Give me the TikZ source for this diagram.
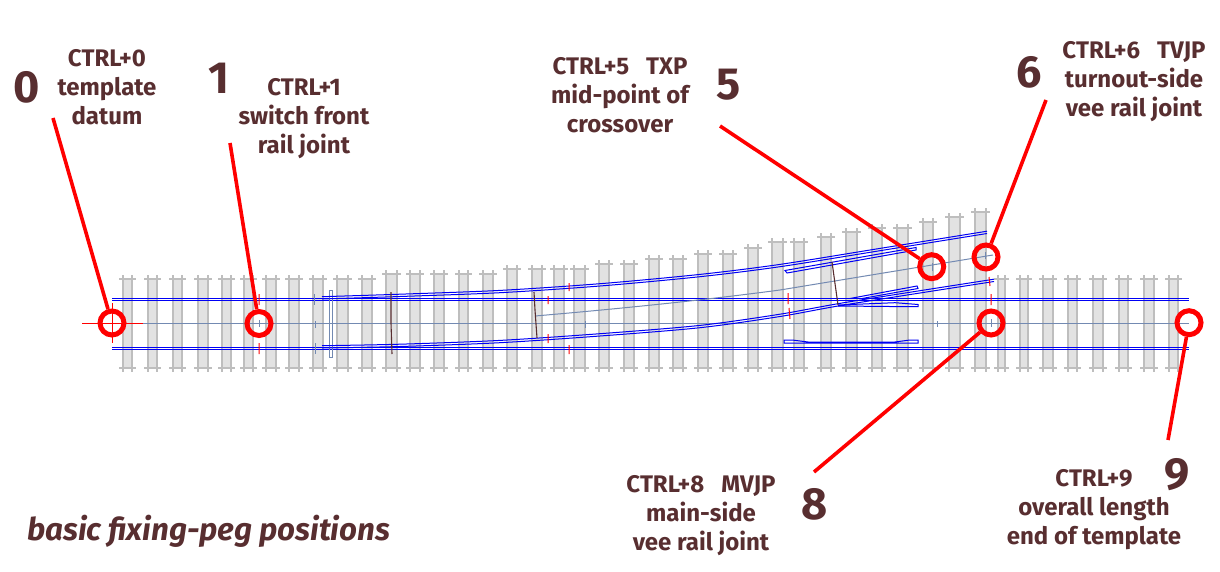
\documentclass[tikz,border=0pt]{standalone}
\usepackage{fontspec}
\setmainfont{Fira Sans}
\usepackage{tikz}
\definecolor{sleepgrey}{RGB}{226,226,226}
\definecolor{edgegrey}{RGB}{190,190,190}
\definecolor{railblue}{RGB}{0,0,245}
\definecolor{slate}{RGB}{115,138,178}
\definecolor{darkbrown}{RGB}{88,46,48}
\tikzstyle{sleeper} = [fill=sleepgrey, draw=none]
\tikzstyle{sleepedge} = [draw=edgegrey, line width=1.1pt]
\tikzstyle{railline} = [draw=railblue, line width=1pt]
\tikzstyle{guide} = [draw=slate, line width=1pt]
\tikzstyle{stretcher} = [draw=darkbrown, line width=1.1pt]
\tikzstyle{redtick} = [draw=red, line width=1pt]
\tikzstyle{peg} = [circle, draw=red, line width=5pt, minimum size=24pt, inner sep=0pt]
\tikzstyle{leader} = [draw=red, line width=3.6pt]
\tikzstyle{caption} = [text=darkbrown, font=\fontsize{24}{29}\selectfont\bfseries, align=center, text centered, inner sep=0pt]
\tikzstyle{bignum} = [text=darkbrown, font=\fontsize{45}{45}\selectfont\bfseries, inner sep=0pt]
\newcommand{\twinrail}[1]{\draw[railline] #1; \draw[railline, yshift=2.3pt] #1;}
\begin{document}
\begin{tikzpicture}[x=1pt, y=-1pt, node distance=100pt]
\useasboundingbox (0,0) rectangle (1220,572);

% sleepers
\foreach \xa/\xb/\yt in {123/132/279, 148/157/279, 173/182/279, 198/208/279, 222/231/279, 244/253/279,
  266/276/279, 289/299/279, 313/323/279, 337/348/279, 362/372/279, 386/397/274, 410/420/274, 434/444/274,
  459/468/274, 483/493/274, 507/517/269, 532/542/269, 554/564/269, 574/585/269, 599/609/264, 624/634/264,
  649/659/259, 673/683/259, 698/708/254, 723/733/254, 748/758/248, 772/783/242, 794/804/242, 821/831/237,
  846/857/232, 872/882/228, 897/908/228, 923/933/222, 949/960/217, 975/986/212, 998/1005/279, 1020/1028/279,
  1043/1053/279, 1068/1077/279, 1093/1103/279, 1119/1128/279, 1144/1154/279, 1169/1178/279}{
  \fill[sleeper] (\xa,\yt) rectangle (\xb,368);
  \draw[sleepedge] (\xa,\yt-4) -- (\xa,372) (\xb,\yt-4) -- (\xb,372);
  \draw[sleepedge] (\xa-4,\yt) -- (\xb+4,\yt) (\xa-4,368) -- (\xb+4,368);
}

% main road
\draw[guide] (143,323.5) -- (1189,323.5);
\draw[redtick] (82,323.5) -- (143,323.5) (112,303) -- (112,343);
\draw[railline] (112,298.5) -- (1189,298.5);
\draw[railline] (112,300.5) -- (1189,300.5);
\draw[railline] (112,347.5) -- (1189,347.5);
\draw[railline] (112,349.5) -- (1189,349.5);

% switch and turnout road
\draw[guide] (329.7,290) rectangle (332.3,357);
\draw[guide] (535,316) .. controls (640,307) and (720,298) .. (780,290) -- (993,255);
\twinrail{plot[smooth] coordinates {(322,299) (400,296.5) (500,292.7) (600,286) (700,276.7) (780,266.7) (880,250.7) (987,233.5)}}
\twinrail{plot[smooth] coordinates {(322,348) (400,346.5) (500,342.7) (600,336) (700,327.7) (780,316.5) (847,304.5) (994,281.5)}}
\draw[railline] (785,270.5) -- (916,247.5) -- (916,250) -- (787,273) -- cycle;
\draw[railline] (850,298.5) -- (917,286) -- (918,288.5) -- (862,298.5);
\draw[railline] (838,305) -- (895,302.7) -- (918,304.5) -- (918,306.7) -- (910,306.7) -- (838,306);
\draw[railline] (784,340) -- (792,340) -- (808,342) -- (895,342) -- (910,340) -- (918,340) -- (918,343) -- (784,343) -- cycle;
\draw[stretcher] (391,292) -- (391,323) -- (392,354);
\draw[stretcher] (534,292) -- (535,310) -- (537,338);
\draw[stretcher] (832,262) -- (838,305);

% timber ticks
\draw[guide] (314,294) -- (314,305) (315,321) -- (315,328) (315,343) -- (315,354)
  (259,320) -- (259,327) (585,321) -- (585,328) (937,321) -- (937,327) (991,319) -- (991,327)
  (932,263) -- (932,271) (985,252) -- (985,259);
\draw[redtick] (259,294) -- (259,305) (259,343) -- (259,354) (569,283) -- (569,291) (548,296) -- (548,304)
  (548,334) -- (548,343) (569,345) -- (569,354) (788,293) -- (788,304) (789,308) -- (790,319)
  (989,277) -- (990,286) (991,294) -- (991,305);

% pegs
\node (peg0) [peg] at (112,323) {};
\node (peg1) [peg] at (259,323.5) {};
\node (peg5) [peg] at (931.7,266.7) {};
\node (peg6) [peg] at (986,257) {};
\node (peg8) [peg] at (991,323) {};
\node (peg9) [peg] at (1189,322.7) {};

\coordinate (lead0) at (53,118);
\coordinate (lead1) at (230,143);
\coordinate (lead5) at (720,126);
\coordinate (lead6) at (1046,100);
\coordinate (lead8) at (814,472);
\coordinate (lead9) at (1168,440);
\draw[leader] (lead0) -- (peg0);
\draw[leader] (lead1) -- (peg1);
\draw[leader] (lead5) -- (peg5);
\draw[leader] (lead6) -- (peg6);
\draw[leader] (lead8) -- (peg8);
\draw[leader] (lead9) -- (peg9);

% labels
\node (text0) [caption] at (107,87) {CTRL+0\\template\\datum};
\node (text1) [caption] at (304,118.5) {CTRL+1\\switch front\\rail joint};
\node (text5) [caption] at (620,95) {CTRL+5\ \ \ TXP\\mid-point of\\crossover};
\node (text6) [caption] at (1134,82) {CTRL+6\ \ \ TVJP\\turnout-side\\vee rail joint};
\node (text8) [caption] at (701,516) {CTRL+8\ \ \ MVJP\\main-side\\vee rail joint};
\node (text9) [caption] at (1094,510) {CTRL+9\\overall length\\end of template};
\node (num0) [bignum] at (27,87) {0};
\node (num1) [bignum] at (219,78) {1};
\node (num5) [bignum] at (729,85) {5};
\node (num6) [bignum] at (1029,72) {6};
\node (num8) [bignum] at (815,504) {8};
\node (num9) [bignum] at (1177,475) {9};
\node (title) [text=darkbrown, font=\fontsize{31.3}{31}\selectfont\bfseries\itshape, inner sep=0pt, anchor=west] at (27,531) {basic fixing-peg positions};

\end{tikzpicture}
\end{document}
